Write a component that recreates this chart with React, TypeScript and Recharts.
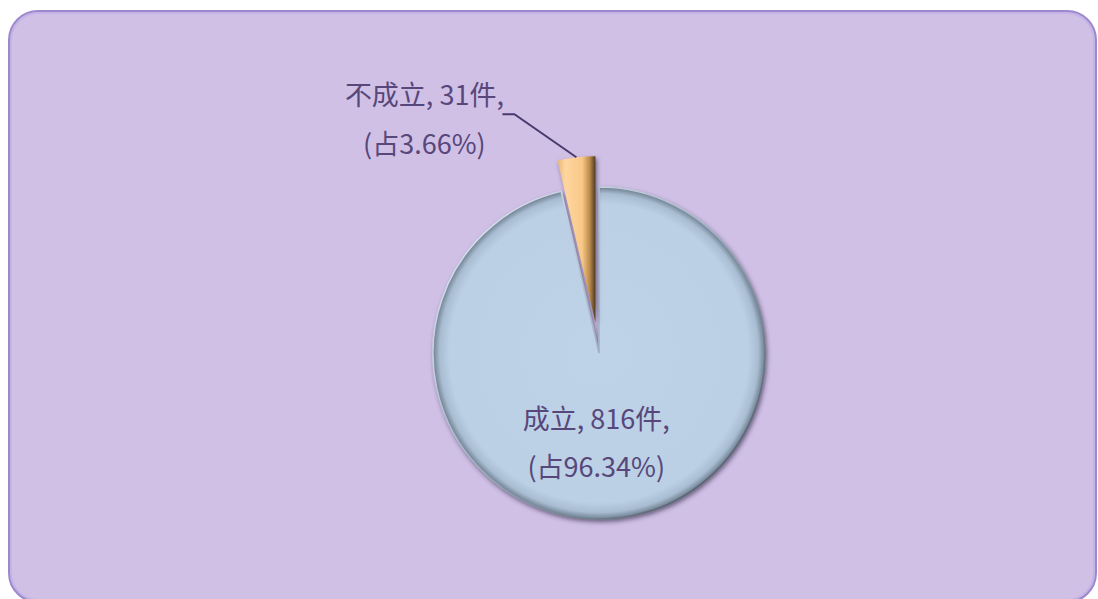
import React from "react";
import { PieChart, Pie, Cell } from "recharts";

const categories = ["成立", "不成立"];
const counts = [816, 31];
const shares = ["96.34%", "3.66%"];

const data = categories.map((name, i) => ({ name, value: counts[i], share: shares[i] }));

const W = 1098;
const H = 599;
const CX = 599;
const CY = 353;
const R = 166;
const EXPLODE = 31;

const total = counts.reduce((a, b) => a + b, 0);
const smallMid = 90 + (360 * counts[1]) / total / 2;
const RAD = Math.PI / 180;
const exCx = CX + EXPLODE * Math.cos(smallMid * RAD);
const exCy = CY - EXPLODE * Math.sin(smallMid * RAD);

const textColor = "#57477a";
const fontFamily = "'Noto Sans CJK TC', 'Noto Sans', sans-serif";
const FS = 27;

function makeLabel(which: number) {
  return (props: any) => {
    const { cx, cy, midAngle, outerRadius, index, payload } = props;
    if (index !== which) return null;
    const d = payload?.payload ?? payload ?? data[index];
    const line1 = `${d.name}, ${d.value}件,`;
    const line2 = `(占${d.share})`;
    const cos = Math.cos(-midAngle * RAD);
    const sin = Math.sin(-midAngle * RAD);
    if (index === 0) {
      const r = outerRadius * 0.54;
      const x = cx + r * cos - 13;
      const y = cy + r * sin;
      return (
        <g>
          <text x={x} y={y - 25} textAnchor="middle" dominantBaseline="central" fill={textColor} fontSize={FS} fontFamily={fontFamily}>
            {line1}
          </text>
          <text x={x} y={y + 23} textAnchor="middle" dominantBaseline="central" fill={textColor} fontSize={FS} fontFamily={fontFamily}>
            {line2}
          </text>
        </g>
      );
    }
    const sx = cx + outerRadius * cos;
    const sy = cy + outerRadius * sin;
    const ex = sx - 62;
    const ey = sy - 43;
    const hx = ex - 12;
    return (
      <g>
        <path d={`M${sx},${sy}L${ex},${ey}L${hx},${ey}`} stroke="#4a3a6c" strokeWidth={2} fill="none" />
        <text x={hx - 78} y={ey - 21} textAnchor="middle" dominantBaseline="central" fill={textColor} fontSize={FS} fontFamily={fontFamily}>
          {line1}
        </text>
        <text x={hx - 78} y={ey + 28} textAnchor="middle" dominantBaseline="central" fill={textColor} fontSize={FS} fontFamily={fontFamily}>
          {line2}
        </text>
      </g>
    );
  };
}

export default function App() {
  return (
    <div style={{ position: "fixed", left: 0, top: 0, width: W, height: H, overflow: "hidden" }}>
      <div
        style={{
          position: "absolute",
          left: 8,
          top: 10,
          width: 1089,
          height: 593,
          boxSizing: "border-box",
          border: "2px solid #9d88cd",
          boxShadow: "inset 0 0 0 2px #c4b3e6",
          borderRadius: 30,
          background: "#d0c0e6",
        }}
      />
      <div style={{ position: "absolute", left: 0, top: 0 }}>
        <PieChart width={W} height={H} margin={{ top: 0, right: 0, bottom: 0, left: 0 }}>
          <defs>
            <radialGradient id="bigFill" cx="50%" cy="50%" r="50%">
              <stop offset="0%" stopColor="#bed2e8" />
              <stop offset="90%" stopColor="#bbcfe5" />
              <stop offset="96%" stopColor="#a9bdd2" />
              <stop offset="100%" stopColor="#6f8091" />
            </radialGradient>
            <linearGradient id="rimStroke" x1="0" y1="0" x2="1" y2="1">
              <stop offset="0%" stopColor="#e6eef8" />
              <stop offset="45%" stopColor="#a7b8ca" />
              <stop offset="100%" stopColor="#3c4552" />
            </linearGradient>
            <linearGradient id="smallFill" x1="0" y1="0" x2="1" y2="0">
              <stop offset="0%" stopColor="#e7b677" />
              <stop offset="20%" stopColor="#ffd6a0" />
              <stop offset="65%" stopColor="#f9c887" />
              <stop offset="85%" stopColor="#b98a4c" />
              <stop offset="100%" stopColor="#4e3a22" />
            </linearGradient>
            <filter id="pieShadow" x="-20%" y="-20%" width="140%" height="140%">
              <feDropShadow dx="1.5" dy="2.5" stdDeviation="2" floodColor="#2e2840" floodOpacity="0.6" />
            </filter>
          </defs>
          <Pie
            data={data}
            dataKey="value"
            nameKey="name"
            cx={CX}
            cy={CY}
            outerRadius={R}
            startAngle={90}
            endAngle={-270}
            stroke="none"
            labelLine={false}
            label={makeLabel(0)}
            isAnimationActive={false}
          >
            <Cell fill="url(#bigFill)" stroke="url(#rimStroke)" strokeWidth={1.5} filter="url(#pieShadow)" />
            <Cell fill="transparent" />
          </Pie>
          <Pie
            data={data}
            dataKey="value"
            nameKey="name"
            cx={exCx}
            cy={exCy}
            outerRadius={R}
            startAngle={90}
            endAngle={-270}
            stroke="none"
            labelLine={false}
            label={makeLabel(1)}
            isAnimationActive={false}
          >
            <Cell fill="transparent" />
            <Cell fill="url(#smallFill)" filter="url(#pieShadow)" />
          </Pie>
        </PieChart>
      </div>
    </div>
  );
}
